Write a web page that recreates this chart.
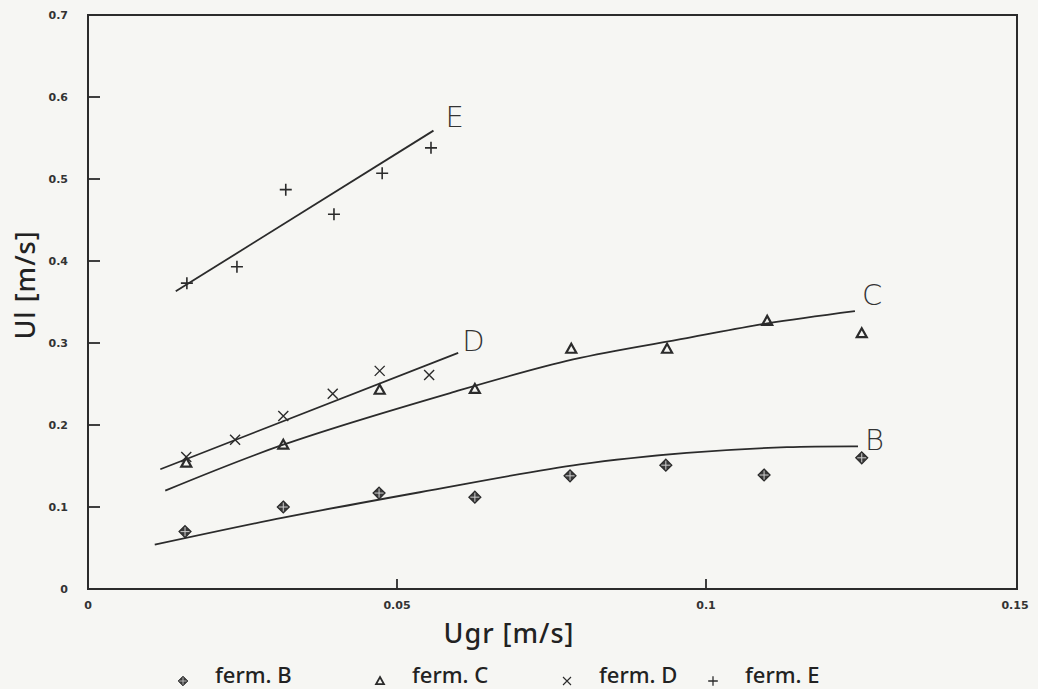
<!DOCTYPE html>
<html>
<head>
<meta charset="utf-8">
<script src="https://cdn.jsdelivr.net/npm/d3@7"></script>
<style>
  html, body { margin: 0; padding: 0; background: #f6f6f3; }
  svg { display: block; }
</style>
</head>
<body>
<script>
const { select, scaleLinear, line, curveCatmullRom } = d3;

const fermB = [[0.0157, 0.070], [0.0316, 0.100], [0.0471, 0.117], [0.0626, 0.112],
               [0.0780, 0.138], [0.0935, 0.151], [0.1094, 0.139], [0.1252, 0.160]];
const fermC = [[0.0159, 0.154], [0.0316, 0.176], [0.0472, 0.243], [0.0626, 0.244],
               [0.0782, 0.293], [0.0937, 0.293], [0.1099, 0.327], [0.1252, 0.312]];
const fermD = [[0.0159, 0.161], [0.0238, 0.182], [0.0316, 0.211], [0.0396, 0.238],
               [0.0472, 0.266], [0.0552, 0.261]];
const fermE = [[0.0160, 0.373], [0.0241, 0.393], [0.0320, 0.487], [0.0398, 0.457],
               [0.0476, 0.507], [0.0555, 0.538]];

// hand drawn fitting curves
const fitB = [[0.0108, 0.054], [0.0316, 0.087], [0.0537, 0.118], [0.0796, 0.152],
              [0.0969, 0.166], [0.1131, 0.173], [0.1246, 0.174]];
const fitC = [[0.0125, 0.120], [0.0316, 0.176], [0.0586, 0.239], [0.0785, 0.280],
              [0.0969, 0.306], [0.1099, 0.324], [0.1241, 0.339]];
const fitD = [[0.0117, 0.146], [0.0599, 0.288]];
const fitE = [[0.0142, 0.363], [0.0559, 0.559]];

const curveNames = ["B", "C", "D", "E"];
const legendLabels = ["ferm. B", "ferm. C", "ferm. D", "ferm. E"];
const xTicks = [0, 0.05, 0.1, 0.15];
const yTicks = [0, 0.1, 0.2, 0.3, 0.4, 0.5, 0.6, 0.7];

const width = 1038, height = 689;
const ink = "#2b2b2b";

const svg = select("body").append("svg")
  .attr("width", width)
  .attr("height", height);

svg.append("rect").attr("width", width).attr("height", height).attr("fill", "#f6f6f3");

// scales
const x = scaleLinear().domain([0, 0.15]).range([88, 1015]);
const y = scaleLinear().domain([0, 0.7]).range([589, 15]);

// frame
svg.append("rect")
  .attr("x", x(0)).attr("y", y(0.7))
  .attr("width", x(0.15) - x(0) + 2)
  .attr("height", y(0) - y(0.7))
  .attr("fill", "none")
  .attr("stroke", ink)
  .attr("stroke-width", 2);

// ticks (drawn inward)
svg.append("g").selectAll("line")
  .data(yTicks.slice(1, -1))
  .join("line")
  .attr("x1", x(0)).attr("x2", x(0) + 12)
  .attr("y1", d => y(d)).attr("y2", d => y(d))
  .attr("stroke", ink).attr("stroke-width", 1.8);

svg.append("g").selectAll("line")
  .data(xTicks.slice(1, -1))
  .join("line")
  .attr("x1", d => x(d)).attr("x2", d => x(d))
  .attr("y1", y(0)).attr("y2", y(0) - 10)
  .attr("stroke", ink).attr("stroke-width", 1.8);

const tickFont = "'DejaVu Sans', sans-serif";

svg.append("g").selectAll("text")
  .data(yTicks)
  .join("text")
  .attr("x", 68)
  .attr("y", d => y(d) + 4)
  .attr("text-anchor", "end")
  .attr("font-family", tickFont)
  .attr("font-size", 11)
  .attr("font-weight", "bold")
  .attr("fill", "#333")
  .text(d => d === 0 ? "0" : d.toFixed(1));

svg.append("g").selectAll("text")
  .data(xTicks)
  .join("text")
  .attr("x", d => x(d))
  .attr("y", 609)
  .attr("text-anchor", "middle")
  .attr("font-family", tickFont)
  .attr("font-size", 11)
  .attr("font-weight", "bold")
  .attr("fill", "#333")
  .text(d => d === 0 ? "0" : String(d));

// axis titles
const titleFont = "'Noto Sans', sans-serif";

svg.append("text")
  .attr("x", 509).attr("y", 643)
  .attr("text-anchor", "middle")
  .attr("font-family", titleFont)
  .attr("font-size", 27)
  .attr("font-weight", 500)
  .attr("letter-spacing", 1)
  .attr("fill", "#222")
  .text("Ugr [m/s]");

svg.append("text")
  .attr("transform", "translate(35,285) rotate(-90)")
  .attr("text-anchor", "middle")
  .attr("font-family", titleFont)
  .attr("font-size", 27)
  .attr("font-weight", 500)
  .attr("letter-spacing", 1)
  .attr("fill", "#222")
  .text("Ul [m/s]");

// fit curves
const fitLine = line()
  .x(d => x(d[0]))
  .y(d => y(d[1]))
  .curve(curveCatmullRom);

const fits = [fitB, fitC, fitD, fitE];

svg.append("g")
  .selectAll("path")
  .data(fits)
  .join("path")
  .attr("d", fitLine)
  .attr("fill", "none")
  .attr("stroke", ink)
  .attr("stroke-width", 1.8);

// curve letters placed at the end of each fit
const labelShift = [[7, 4], [7, -6], [4, -2], [12, -4]];
svg.append("g")
  .selectAll("text")
  .data(curveNames)
  .join("text")
  .attr("x", (d, i) => x(fits[i][fits[i].length - 1][0]) + labelShift[i][0])
  .attr("y", (d, i) => y(fits[i][fits[i].length - 1][1]) + labelShift[i][1])
  .attr("font-family", "'DejaVu Sans', sans-serif")
  .attr("font-size", 29)
  .attr("font-weight", 300)
  .attr("fill", "#333")
  .text(d => d);

// markers
function diamond(g) {
  g.append("path").attr("d", "M0,-6L6,0L0,6L-6,0Z")
    .attr("fill", "#3a3a3a").attr("stroke", ink).attr("stroke-width", 1.2);
  g.append("path").attr("d", "M0,-4.5V4.5M-4.5,0H4.5")
    .attr("stroke", "#cfcfcf").attr("stroke-width", 1);
}
function triangle(g) {
  g.append("path").attr("d", "M0,-5L5,4L-5,4Z")
    .attr("fill", "none").attr("stroke", ink).attr("stroke-width", 2.2);
}
function cross(g) {
  g.append("path").attr("d", "M-5,-5L5,5M5,-5L-5,5")
    .attr("stroke", ink).attr("stroke-width", 1.4);
}
function plus(g) {
  g.append("path").attr("d", "M-6,0H6M0,-6V6")
    .attr("stroke", ink).attr("stroke-width", 1.6);
}

const series = [
  { data: fermB, draw: diamond },
  { data: fermC, draw: triangle },
  { data: fermD, draw: cross },
  { data: fermE, draw: plus }
];

series.forEach(s => {
  svg.append("g")
    .selectAll("g")
    .data(s.data)
    .join("g")
    .attr("transform", d => `translate(${x(d[0])},${y(d[1])})`)
    .each(function () { s.draw(select(this)); });
});

// legend
const legendX = [183, 380, 567, 713];
const legend = svg.append("g");
legendLabels.forEach((label, i) => {
  const g = legend.append("g").attr("transform", `translate(${legendX[i]},681) scale(0.8)`);
  series[i].draw(g);
  legend.append("text")
    .attr("x", legendX[i] + 32)
    .attr("y", 683)
    .attr("font-family", titleFont)
    .attr("font-size", 22)
    .attr("font-weight", 500)
    .attr("fill", "#222")
    .text(label);
});
</script>
</body>
</html>
